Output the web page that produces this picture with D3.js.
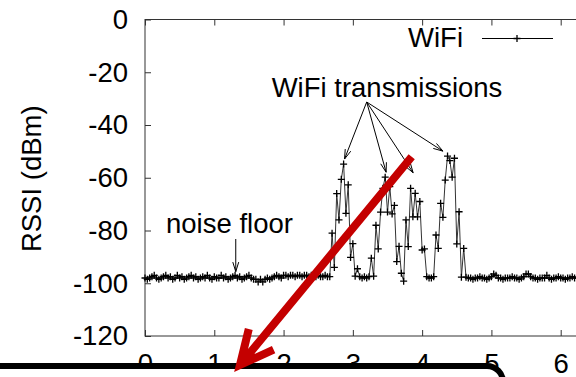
<!DOCTYPE html>
<html><head><meta charset="utf-8">
<script src="https://cdn.jsdelivr.net/npm/d3@7"></script>
<style>
html,body{margin:0;padding:0;background:#fff;overflow:hidden}
svg{display:block}
text{font-family:"Liberation Sans",Arial,Helvetica,sans-serif;fill:#000}
</style></head>
<body>
<svg id="chart" width="576" height="377"></svg>
<script>
// ---- data ----
const seriesName = "WiFi";
const sampleStart = 0;          // s
const sampleStep = 1 / 30;      // s between RSSI samples
const rssi = [
  -98,-98.5,-98,-97.5,-97,-98,-98.5,-98,-97.5,-97,
  -98,-97.5,-98.5,-98,-97,-98,-97.5,-98.5,-98,-97.5,
  -97,-98,-97.5,-98.5,-98,-97.5,-98,-97,-98,-98.5,
  -97.5,-98,-98,-97,-98,-97.5,-98.5,-98,-97.5,-97,
  -98,-97.5,-98.5,-98,-97.5,-97,-98,-98.5,-98.5,-99.5,
  -98.5,-99.5,-98.5,-98,-98.5,-98,-97.5,-97,-97.5,-98,
  -97,-97,-97.5,-97,-97,-97.5,-97,-97,-97.5,-97,
  -97,-97.5,-97,-97,-97.5,-97,-97.5,-97.5,-97,-97.5,
  -97.5,
  -81,-94,-66,-76,-60.6,-54.8,-73.5,-62.7,-90.2,-85,
  -97.3,-94.5,-97.5,-98,-97.5,-98,-97.5,-90.5,-97.3,-78,
  -87,-73,-64,-59.8,-73,-63.4,-73.7,-70.5,-91.8,-86,
  -96.2,-99.2,-76,-86.1,-64,-74.8,-65.9,-74.8,-69,-87.4,
  -87,-97.5,-98,-98,-97.5,-81.7,-86.8,-69.7,-75,-60.9,
  -51.8,-53.5,-59.8,-52.6,-85.1,-72.9,-97.7,-86.8,-97.7,
  -98,-98,-98.5,-98,-98,-97.5,-98,-98,-98.5,-98,
  -97.5,-96.5,-97,-98,-98,-98.5,-98,-98,-98,-97.5,
  -98,-98,-98.5,-98,-97.5,-96.5,-96.5,-97.5,-98,-98,
  -98.5,-98,-98,-98,-97,-98,-98.5,-98,-98,-97.5,
  -98,-98,-98.5,-98,-98,-97.5,-98,-98,-98
];
const xTicks = [0, 1, 2, 3, 4, 5, 6];
const yTicks = [-120, -100, -80, -60, -40, -20, 0];
const yLabel = "RSSI (dBm)";
const transmissionsLabel = "WiFi transmissions";
const transmissionPeaks = [[2.88, -54.8], [3.48, -59.8], [3.87, -60], [4.3, -51.8]];
const noiseLabel = "noise floor";
const noisePoint = [1.31, -97.5];

// ---- chart ----
const svg = d3.select("#chart");
const x = d3.scaleLinear().domain([0, 6]).range([145, 560.7]);
const y = d3.scaleLinear().domain([-120, 0]).range([336, 19.5]);
const FS = 27.5;
const fmt = d => String(d);

const points = rssi.map((v, i) => [sampleStart + i * sampleStep, v]);

// frame
svg.append("rect").attr("x", x(0)).attr("y", y(0))
  .attr("width", 700).attr("height", y(-120) - y(0))
  .attr("fill", "none").attr("stroke", "#333").attr("stroke-width", 1);

// axes
const gl = svg.append("g").attr("transform", `translate(${x(0)},0)`)
  .call(d3.axisLeft(y).tickValues(yTicks).tickSizeInner(-6).tickSizeOuter(0).tickPadding(17).tickFormat(fmt));
const gb = svg.append("g").attr("transform", `translate(0,${y(-120)})`)
  .call(d3.axisBottom(x).tickValues(xTicks).tickSizeInner(-6).tickSizeOuter(0).tickPadding(17).tickFormat(fmt));
const gt = svg.append("g").attr("transform", `translate(0,${y(0)})`)
  .call(d3.axisTop(x).tickValues(xTicks).tickSizeInner(-6).tickSizeOuter(0).tickFormat(""));
[gl, gb, gt].forEach(g => {
  g.select(".domain").remove();
  g.selectAll("line").attr("stroke", "#333");
  g.selectAll("text").attr("font-size", FS).attr("font-family", '"Liberation Sans",Arial,sans-serif').attr("fill", "#000");
});

// y label
svg.append("text").attr("transform", `translate(41,${(y(-120) + y(0)) / 2 + 1}) rotate(-90)`)
  .attr("text-anchor", "middle").attr("font-size", FS).text(yLabel);

// series line
svg.append("path").datum(points)
  .attr("d", d3.line().x(d => x(d[0])).y(d => y(d[1])))
  .attr("fill", "none").attr("stroke", "#333").attr("stroke-width", 1);
const m = 3.5;
svg.append("g").selectAll("path").data(points).join("path")
  .attr("d", d => `M${x(d[0]) - m},${y(d[1])}h${2 * m}M${x(d[0])},${y(d[1]) - m}v${2 * m}`)
  .attr("stroke", "#000").attr("stroke-width", 1.3).attr("fill", "none");

// legend
svg.append("text").attr("x", 463).attr("y", 47).attr("text-anchor", "end").attr("font-size", FS).text(seriesName);
svg.append("line").attr("x1", 482).attr("x2", 553).attr("y1", 38.5).attr("y2", 38.5).attr("stroke", "#000").attr("stroke-width", 1.2);
svg.append("path").attr("d", `M${517 - m},38.5h${2 * m}M517,${38.5 - m}v${2 * m}`).attr("stroke", "#000").attr("stroke-width", 1.3);

// arrow helper
function arrow(x1, y1, x2, y2, len, ang) {
  const a = Math.atan2(y1 - y2, x1 - x2);
  const p1 = [x2 + len * Math.cos(a + ang), y2 + len * Math.sin(a + ang)];
  const p2 = [x2 + len * Math.cos(a - ang), y2 + len * Math.sin(a - ang)];
  return `M${x1},${y1}L${x2},${y2}M${p1[0]},${p1[1]}L${x2},${y2}L${p2[0]},${p2[1]}`;
}

// annotations
svg.append("text").attr("x", 387).attr("y", 97).attr("text-anchor", "middle").attr("font-size", FS).text(transmissionsLabel);
const src = [366.7, 102];
transmissionPeaks.forEach(p => {
  const tx = x(p[0]), ty = y(p[1]) - 5;
  svg.append("path").attr("d", arrow(src[0], src[1], tx, ty, 10, 0.3))
    .attr("fill", "none").attr("stroke", "#000").attr("stroke-width", 1);
});
svg.append("text").attr("x", 166).attr("y", 233).attr("font-size", FS).text(noiseLabel);
svg.append("path").attr("d", arrow(x(noisePoint[0]), 239, x(noisePoint[0]), y(noisePoint[1]) - 5, 10, 0.3))
  .attr("fill", "none").attr("stroke", "#000").attr("stroke-width", 1);

// black rounded box overlay at bottom
svg.append("rect").attr("x", -30).attr("y", 366).attr("width", 533).attr("height", 60)
  .attr("rx", 16).attr("fill", "#fff").attr("stroke", "#000").attr("stroke-width", 6);

// red overlay arrow
svg.append("path").attr("d", arrow(411.7, 156.7, 240, 365, 37, 0.45))
  .attr("fill", "none").attr("stroke", "#c40000").attr("stroke-width", 8)
  .attr("stroke-linecap", "butt").attr("stroke-linejoin", "miter");
</script>
</body></html>
